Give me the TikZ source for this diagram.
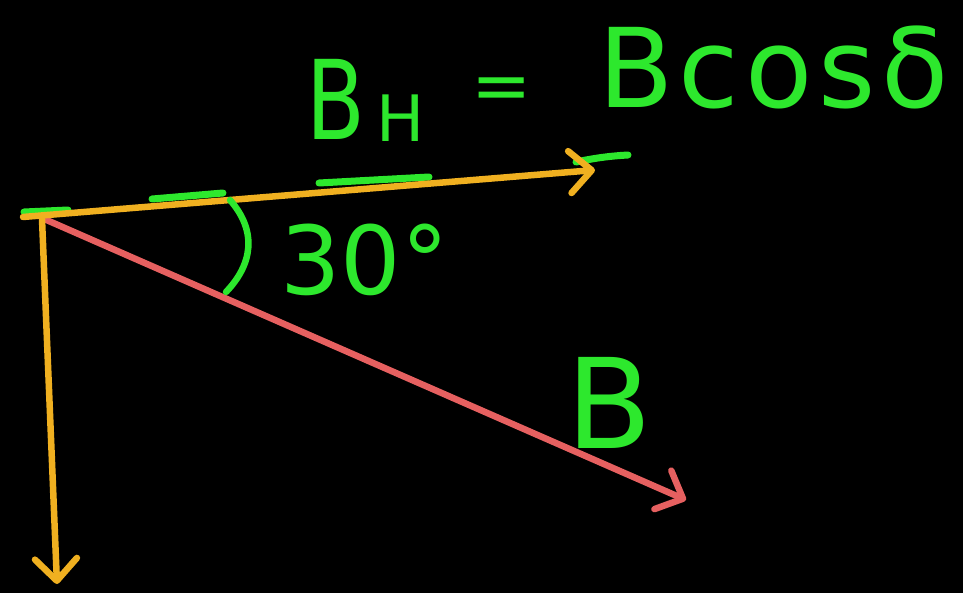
\documentclass[tikz,border=0pt]{standalone}
\usepackage{fontspec}
\setmainfont{DejaVu Sans}
\usetikzlibrary{arrows.meta}
\definecolor{hgreen}{RGB}{45,232,45}
\definecolor{horange}{RGB}{240,176,32}
\definecolor{hred}{RGB}{230,96,96}
\tikzset{
  vec/.style={line width=6.5pt, line cap=round, line join=round,
    -{Straight Barb[length=22pt,width=42pt,round]}},
  gmark/.style={hgreen, line width=7pt, line cap=round},
  lbl/.style={text=hgreen, inner sep=0pt}
}
\begin{document}
\begin{tikzpicture}[x=1pt,y=-1pt]
\fill[black] (0,0) rectangle (963,593);
\useasboundingbox (0,0) rectangle (963,593);
% origin points and tips
\coordinate (oh) at (23,217);
\coordinate (ov) at (42,219);
\coordinate (or) at (42,218);
\coordinate (th) at (595,170);
\coordinate (tv) at (57,584);
\coordinate (tr) at (686,500);
% green underline marks
\draw[gmark] (24,212) -- (68,210);
\draw[gmark] (152,199) -- (223,193);
\draw[gmark] (319,183) -- (429,177);
\draw[gmark] (576,162) .. controls (595,158) and (610,156) .. (628,155);
% vectors
\draw[vec, hred] (or) -- (tr);
\draw[vec, horange] (ov) -- (tv);
\draw[vec, horange] (oh) -- (th);
% angle arc
\draw[hgreen, line width=6.5pt, line cap=round] (230,200) .. controls (258,232) and (252,265) .. (226,292);
% labels
\node[lbl, anchor=base west, font=\fontsize{110}{110}\selectfont] (bh) at (306,140) {\scalebox{0.78}[1]{B}};
\node[lbl, anchor=base west, font=\fontsize{64}{64}\selectfont] (hsub) at (376,142) {H};
\node[lbl, font=\fontsize{72}{72}\selectfont] (eq) at (502,94) {=};
\node[lbl, anchor=base west, font=\fontsize{110}{110}\selectfont] (rhs) at (598,108) {B\kern5pt c\kern6pt o\kern6pt s\kern6pt δ};
\node[lbl, anchor=base west, font=\fontsize{95}{95}\selectfont] (ang) at (280,295) {30°};
\node[lbl, anchor=base west, font=\fontsize{125}{125}\selectfont] (bl) at (566,448) {B};
\end{tikzpicture}
\end{document}
